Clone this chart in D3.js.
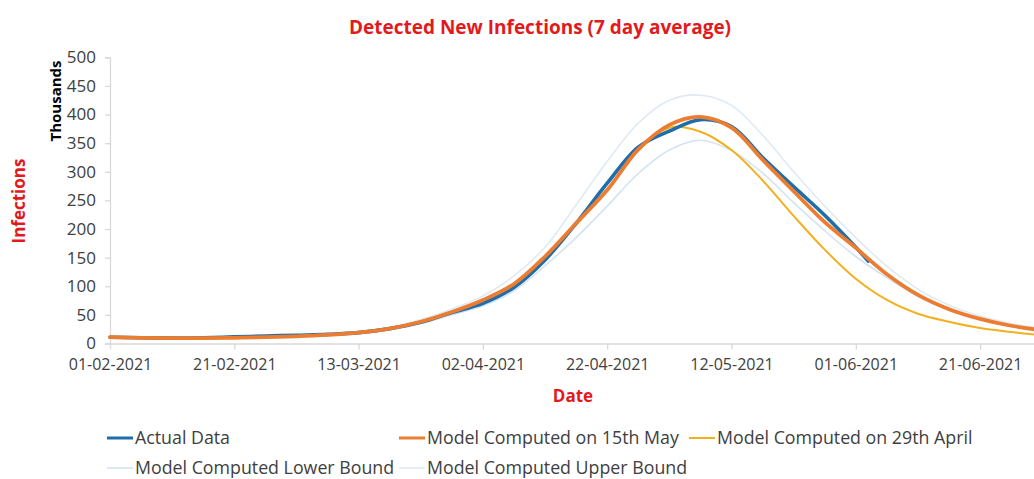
<!DOCTYPE html>
<html>
<head>
<meta charset="utf-8">
<script src="https://cdn.jsdelivr.net/npm/d3@7"></script>
<style>
  html, body { margin: 0; padding: 0; background: #fff; }
  svg { display: block; font-family: "Open Sans", "Liberation Sans", sans-serif; }
</style>
</head>
<body>
<svg id="chart" width="1034" height="479"></svg>
<script>
// Daily new infections, 7-day average, in thousands.
const modelDates = [
  "2021-02-01","2021-02-06","2021-02-11","2021-02-16","2021-02-21","2021-02-26",
  "2021-03-03","2021-03-08","2021-03-13","2021-03-18","2021-03-23","2021-03-28",
  "2021-04-02","2021-04-07","2021-04-12","2021-04-17","2021-04-22","2021-04-27",
  "2021-05-02","2021-05-07","2021-05-12","2021-05-17","2021-05-22","2021-05-27",
  "2021-06-01","2021-06-06","2021-06-11","2021-06-16","2021-06-21","2021-06-26",
  "2021-07-01"
];
const actualDates = modelDates.slice(0, 25).concat(["2021-06-03"]);

const actualValues = [11, 10, 9.5, 10, 11.5, 13, 14.5, 16, 19, 26, 37, 54,
  70, 98, 146, 210, 280, 343, 371, 391, 379, 325, 274, 224, 168, 144];

const modelMay15 = [11, 10, 9.5, 9.5, 10, 11, 12.5, 15, 19, 26, 38, 55,
  76, 104, 152, 210, 268, 339, 382, 396, 377, 321, 266, 212, 167, 121,
  85, 60, 43, 31, 23];

const modelApr29 = [11, 10, 9.5, 9.5, 10, 11, 12.5, 15, 19, 26, 38, 55,
  75, 103, 150, 208, 268, 337, 377, 370, 338, 285, 223, 164, 113, 76,
  52, 38, 27, 20, 14];

const lowerBound = [10.5, 9.5, 9, 9, 9.5, 10.5, 12, 14, 18, 24, 35, 50,
  66, 92, 136, 185, 240, 297, 338, 355, 337, 298, 246, 197, 152, 115,
  82, 58, 42, 31, 23];

const upperBound = [11.5, 10.5, 10, 10, 10.5, 11.5, 13, 16, 20.5, 28, 42, 60,
  83, 118, 168, 242, 318, 385, 425, 434, 416, 364, 300, 240, 185, 135,
  95, 67, 48, 35, 26];

const yTicks = [0, 50, 100, 150, 200, 250, 300, 350, 400, 450, 500];
const xTickDates = ["2021-02-01","2021-02-21","2021-03-13","2021-04-02",
  "2021-04-22","2021-05-12","2021-06-01","2021-06-21"];

const seriesNames = ["Actual Data", "Model Computed on 15th May",
  "Model Computed on 29th April", "Model Computed Lower Bound",
  "Model Computed Upper Bound"];

const parse = d3.utcParse("%Y-%m-%d");
const fmt = d3.utcFormat("%d-%m-%Y");

const svg = d3.select("#chart");

const x = d3.scaleUtc()
  .domain([parse("2021-02-01"), parse("2021-07-01")])
  .range([110, 1042.25]);
const y = d3.scaleLinear().domain([0, 500]).range([343.5, 57.3]);

const axisColor = "#d9d9d9";
const textColor = "#404040";
const red = "#e3191c";

// y axis
const yAxis = svg.append("g").attr("transform", "translate(110,0)")
  .call(d3.axisLeft(y).tickValues(yTicks).tickSize(5).tickPadding(9));
yAxis.select(".domain").attr("stroke", axisColor).attr("stroke-width", 1.3);
yAxis.selectAll(".tick line").attr("stroke", axisColor).attr("stroke-width", 1.3);
yAxis.selectAll(".tick text").attr("fill", textColor)
  .style("font-size", "17px").style("font-family", "Open Sans");

// x axis
const xAxis = svg.append("g").attr("transform", "translate(0,343.5)")
  .call(d3.axisBottom(x).tickValues(xTickDates.map(parse)).tickFormat(fmt)
    .tickSize(6).tickSizeOuter(0).tickPadding(9));
xAxis.select(".domain").attr("stroke", axisColor).attr("stroke-width", 1.3);
xAxis.selectAll(".tick line").attr("stroke", axisColor).attr("stroke-width", 1.3);
xAxis.selectAll(".tick text").attr("fill", textColor)
  .style("font-size", "16px").style("font-family", "Open Sans");

// series lines
const line = d3.line()
  .defined(d => d.v != null)
  .x(d => x(d.t))
  .y(d => y(d.v))
  .curve(d3.curveCatmullRom.alpha(0.5));

function rows(dates, values) {
  return dates.map((d, i) => ({ t: parse(d), v: values[i] }));
}

const series = [
  { name: seriesNames[0], data: rows(actualDates, actualValues), color: "#1f6eab", width: 3.6 },
  { name: seriesNames[1], data: rows(modelDates, modelMay15), color: "#ec7c30", width: 3.8 },
  { name: seriesNames[2], data: rows(modelDates, modelApr29), color: "#f2b01e", width: 2 },
  { name: seriesNames[3], data: rows(modelDates, lowerBound), color: "#d3e3f2", width: 1.6 },
  { name: seriesNames[4], data: rows(modelDates, upperBound), color: "#dfeaf5", width: 1.6 }
];

// light bounds underneath, then the April model, actual data and May model on top
const drawOrder = [3, 4, 2, 0, 1];
const plot = svg.append("g");
drawOrder.forEach(i => {
  const s = series[i];
  plot.append("path")
    .datum(s.data)
    .attr("fill", "none")
    .attr("stroke", s.color)
    .attr("stroke-width", s.width)
    .attr("stroke-linejoin", "round")
    .attr("stroke-linecap", "round")
    .attr("d", line);
});

// titles
svg.append("text")
  .attr("x", 540).attr("y", 34)
  .attr("text-anchor", "middle")
  .attr("fill", red)
  .style("font-size", "19px").style("font-weight", "bold")
  .text("Detected New Infections (7 day average)");

svg.append("text")
  .attr("transform", "translate(61,101) rotate(-90)")
  .attr("text-anchor", "middle")
  .attr("fill", "#000")
  .style("font-size", "15px").style("font-weight", "bold")
  .text("Thousands");

svg.append("text")
  .attr("transform", "translate(25,201) rotate(-90)")
  .attr("text-anchor", "middle")
  .attr("fill", red)
  .style("font-size", "17px").style("font-weight", "bold")
  .text("Infections");

svg.append("text")
  .attr("x", 573).attr("y", 402)
  .attr("text-anchor", "middle")
  .attr("fill", red)
  .style("font-size", "17px").style("font-weight", "bold")
  .text("Date");

// legend
const legendPos = [
  { x: 107, y: 438 }, { x: 399, y: 438 }, { x: 689, y: 438 },
  { x: 107, y: 468 }, { x: 399, y: 468 }
];
const legend = svg.append("g");
series.forEach((s, i) => {
  const p = legendPos[i];
  legend.append("line")
    .attr("x1", p.x).attr("x2", p.x + 26)
    .attr("y1", p.y).attr("y2", p.y)
    .attr("stroke", s.color)
    .attr("stroke-width", Math.min(s.width, 3));
  legend.append("text")
    .attr("x", p.x + 28).attr("y", p.y + 6)
    .attr("fill", textColor)
    .style("font-size", "17.8px")
    .text(s.name);
});
</script>
</body>
</html>
